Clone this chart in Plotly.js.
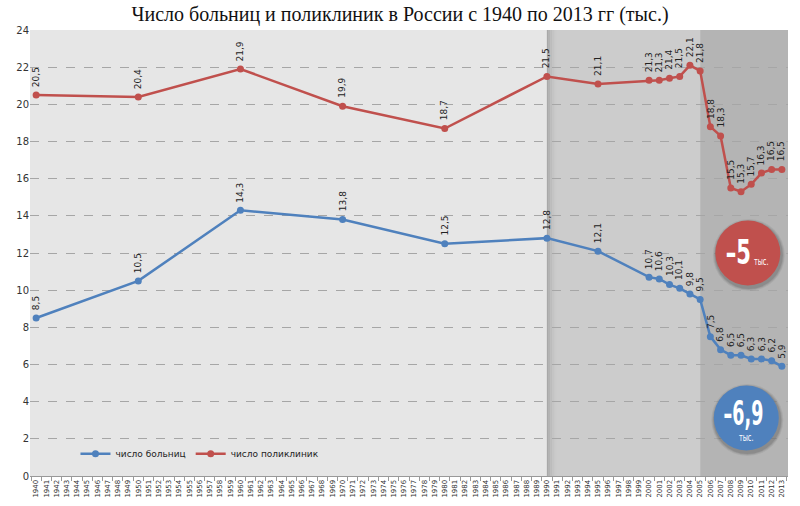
<!DOCTYPE html>
<html><head><meta charset="utf-8">
<script src="https://cdn.plot.ly/plotly-3.0.1.min.js"></script>
<style>html,body{margin:0;padding:0;background:#fff}#chart{width:800px;height:506px}</style>
</head><body><div id="chart"></div>
<script>
const years = [1940,1950,1960,1970,1980,1990,1995,2000,2001,2002,2003,2004,2005,2006,2007,2008,2009,2010,2011,2012,2013];
const hospitals = [8.5,10.5,14.3,13.8,12.5,12.8,12.1,10.7,10.6,10.3,10.1,9.8,9.5,7.5,6.8,6.5,6.5,6.3,6.3,6.2,5.9];
const clinics = [20.5,20.4,21.9,19.9,18.7,21.5,21.1,21.3,21.3,21.4,21.5,22.1,21.8,18.8,18.3,15.5,15.3,15.7,16.3,16.5,16.5];
const allYears = []; for (let y = 1940; y <= 2013; y++) allYears.push(y);
const yTicks = [0,2,4,6,8,10,12,14,16,18,20,22,24];
const periodBreaks = [1939.4, 1990, 2005, 2013.6];
const periodColors = ['#e6e6e6','#cccccc','#b4b4b4'];
const seriesNames = ['число больниц','число поликлиник'];
const seriesColors = ['#4f81bd','#c0504d'];
const badgeText = ['–5','тыс.','–6,9','тыс.'];

const fmt = v => v.toFixed(1).replace('.', ',');

const traces = [hospitals, clinics].map((vals, i) => ({
  x: years, y: vals, type: 'scatter', mode: 'lines+markers', name: seriesNames[i],
  line: {color: seriesColors[i], width: 2.5},
  marker: {color: seriesColors[i], size: 7},
  hoverinfo: 'x+y'
}));

const shapes = [];
for (let i = 0; i < 3; i++) {
  shapes.push({type:'rect', xref:'x', yref:'paper', x0: periodBreaks[i], x1: periodBreaks[i+1], y0:0, y1:1,
    fillcolor: periodColors[i], line:{width:0}, layer:'below'});
}
const shadowCols = ['#a8a8a8','#b3b3b3','#bcbcbc','#c3c3c3','#c8c8c8','#cbcbcb'];
shadowCols.forEach((c, k) => {
  shapes.push({type:'rect', xref:'x', yref:'paper', x0: periodBreaks[1] + k*0.17, x1: periodBreaks[1] + (k+1)*0.17,
    y0:0, y1:1, fillcolor:c, line:{width:0}, layer:'below'});
});
const badges = [{cx:0.947, cy:0.5, col:'#c0504d'}, {cx:0.945, cy:0.13, col:'#4f81bd'}];
badges.forEach(b => {
  [[36,'rgba(0,0,0,0.06)'],[35,'rgba(0,0,0,0.08)'],[34,'rgba(0,0,0,0.10)']].forEach(([r,c]) => {
    shapes.push({type:'circle', xref:'paper', yref:'paper', xsizemode:'pixel', ysizemode:'pixel',
      xanchor:b.cx, yanchor:b.cy, x0:-r+1, x1:r+1, y0:-r-2, y1:r-2, fillcolor:c, line:{width:0}, layer:'above'});
  });
  shapes.push({type:'circle', xref:'paper', yref:'paper', xsizemode:'pixel', ysizemode:'pixel',
    xanchor:b.cx, yanchor:b.cy, x0:-32.5, x1:32.5, y0:-32.5, y1:32.5, fillcolor:b.col, line:{width:0}, layer:'above'});
});

const annotations = [];
[hospitals, clinics].forEach(vals => {
  vals.forEach((v, j) => {
    annotations.push({x: years[j], y: v, xref:'x', yref:'y', text: fmt(v), showarrow:false,
      textangle:-90, xanchor:'center', yanchor:'bottom', yshift:6,
      font:{family:'DejaVu Sans, sans-serif', size:9, color:'#222'}});
  });
});
const bf = 'DejaVu Sans, sans-serif';
const firstBadge = annotations.length;
annotations.push({xref:'paper', yref:'paper', x:badges[0].cx, y:badges[0].cy, xshift:-9, yshift:1, text:'<b>'+badgeText[0]+'</b>', showarrow:false,
  font:{family:bf, size:34, color:'#fff'}, xanchor:'center', yanchor:'middle'});
annotations.push({xref:'paper', yref:'paper', x:badges[0].cx, y:badges[0].cy, xshift:13, yshift:-8, text:badgeText[1], showarrow:false,
  font:{family:bf, size:10, color:'#fff'}, xanchor:'center', yanchor:'middle'});
annotations.push({xref:'paper', yref:'paper', x:badges[1].cx, y:badges[1].cy, xshift:-3, yshift:5, text:'<b>'+badgeText[2]+'</b>', showarrow:false,
  font:{family:bf, size:33, color:'#fff'}, xanchor:'center', yanchor:'middle'});
annotations.push({xref:'paper', yref:'paper', x:badges[1].cx, y:badges[1].cy, yshift:-19, text:badgeText[3], showarrow:false,
  font:{family:bf, size:10, color:'#fff'}, xanchor:'center', yanchor:'middle'});
const badgeScale = [0.62, 0.65, 0.53, 0.65];

const layout = {
  width:800, height:506,
  margin:{l:30, r:12, t:30, b:30},
  paper_bgcolor:'#fff', plot_bgcolor:'#e6e6e6',
  title:{text:'Число больниц и поликлиник в России с 1940 по 2013 гг (тыс.)', x:0.5, xanchor:'center', y:0.972, yanchor:'middle',
    font:{family:'Liberation Serif, DejaVu Serif, serif', size:20, color:'#111'}},
  xaxis:{range:[1939.4, 2013.6], tickvals: allYears, ticktext: allYears.map(String), tickangle:-90,
    tickfont:{family:'DejaVu Sans, sans-serif', size:7, color:'#333'}, showgrid:false, zeroline:false,
    showline:true, linecolor:'#999', linewidth:1, ticks:'',
    minor:{tick0:1939.5, dtick:1, ticks:'outside', ticklen:4, tickcolor:'#999', showgrid:false}},
  yaxis:{range:[0,24], tickvals:yTicks, showgrid:true, gridcolor:'#a6a6a6', griddash:'dash', gridwidth:1,
    zeroline:false, tickfont:{family:'DejaVu Sans, sans-serif', size:10, color:'#333'}, ticks:'', fixedrange:true},
  showlegend:true,
  legend:{orientation:'h', x:0.06, y:0.05, xanchor:'left', yanchor:'middle', bgcolor:'rgba(0,0,0,0)',
    font:{family:'DejaVu Sans, sans-serif', size:9, color:'#222'}},
  shapes: shapes, annotations: annotations
};
Plotly.newPlot('chart', traces, layout, {displayModeBar:false, staticPlot:true}).then(gd => {
  gd.querySelectorAll('g.annotation').forEach(g => {
    const idx = +g.getAttribute('data-index');
    if (idx < firstBadge) return;
    const t = g.querySelector('text.annotation-text');
    if (!t) return;
    const bb = t.getBBox();
    const cx = bb.x + bb.width / 2;
    const s = badgeScale[idx - firstBadge];
    const prev = t.getAttribute('transform') || '';
    t.setAttribute('transform', prev + ` translate(${cx*(1-s)},0) scale(${s},1)`);
  });
});
</script></body></html>
